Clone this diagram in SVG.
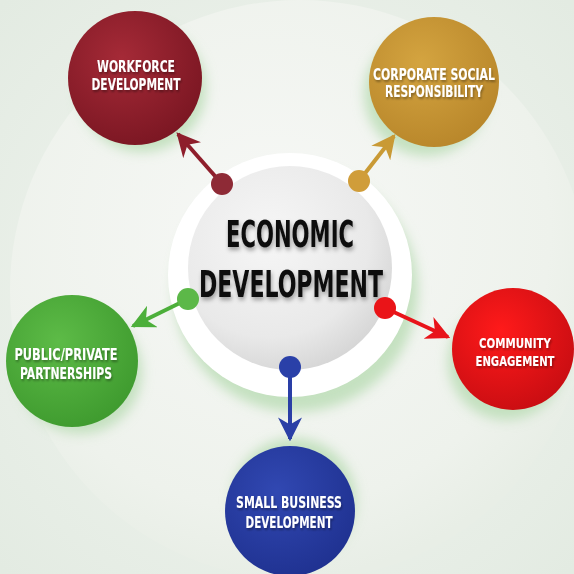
<svg xmlns="http://www.w3.org/2000/svg" width="574" height="574" viewBox="0 0 574 574">
<defs>
  <radialGradient id="bg" cx="0.5" cy="0.5" r="0.7">
    <stop offset="0" stop-color="#f3f6f2"/>
    <stop offset="1" stop-color="#e3ebe2"/>
  </radialGradient>
  <radialGradient id="bigc" cx="0.45" cy="0.4" r="0.6">
    <stop offset="0" stop-color="#f7f8f6"/>
    <stop offset="0.8" stop-color="#eef2ec"/>
    <stop offset="1" stop-color="#e8eee6"/>
  </radialGradient>
  <radialGradient id="inner" cx="0.4" cy="0.35" r="0.7">
    <stop offset="0" stop-color="#f6f6f6"/>
    <stop offset="0.7" stop-color="#e9e9e9"/>
    <stop offset="1" stop-color="#d4d4d4"/>
  </radialGradient>
  <radialGradient id="gRed" cx="0.4" cy="0.35" r="0.7">
    <stop offset="0" stop-color="#a52a37"/><stop offset="1" stop-color="#7a1622"/>
  </radialGradient>
  <radialGradient id="gGold" cx="0.4" cy="0.35" r="0.7">
    <stop offset="0" stop-color="#d4a440"/><stop offset="1" stop-color="#b8862a"/>
  </radialGradient>
  <radialGradient id="gGreen" cx="0.4" cy="0.35" r="0.7">
    <stop offset="0" stop-color="#5dbb47"/><stop offset="1" stop-color="#3e9a2e"/>
  </radialGradient>
  <radialGradient id="gBright" cx="0.4" cy="0.35" r="0.7">
    <stop offset="0" stop-color="#ff1a1a"/><stop offset="1" stop-color="#c80d12"/>
  </radialGradient>
  <radialGradient id="gBlue" cx="0.4" cy="0.35" r="0.7">
    <stop offset="0" stop-color="#3148b2"/><stop offset="1" stop-color="#1f3190"/>
  </radialGradient>
  <filter id="blur" x="-30%" y="-30%" width="160%" height="160%"><feGaussianBlur stdDeviation="6"/></filter>
  <filter id="tshadow" x="-10%" y="-20%" width="120%" height="150%"><feDropShadow dx="1" dy="3" stdDeviation="2" flood-color="#000" flood-opacity="0.35"/></filter>
  <filter id="wshadow" x="-10%" y="-30%" width="120%" height="160%"><feDropShadow dx="1" dy="2" stdDeviation="1" flood-color="#000" flood-opacity="0.35"/></filter>
  <marker id="mRed" viewBox="0 0 10 10" refX="9" refY="5" markerWidth="6" markerHeight="6" orient="auto" markerUnits="strokeWidth"><path d="M0,0 L10,5 L0,10 L3,5 Z" fill="#8e1e2b"/></marker>
  <marker id="mGold" viewBox="0 0 10 10" refX="9" refY="5" markerWidth="6" markerHeight="6" orient="auto" markerUnits="strokeWidth"><path d="M0,0 L10,5 L0,10 L3,5 Z" fill="#c99a35"/></marker>
  <marker id="mGreen" viewBox="0 0 10 10" refX="9" refY="5" markerWidth="6" markerHeight="6" orient="auto" markerUnits="strokeWidth"><path d="M0,0 L10,5 L0,10 L3,5 Z" fill="#4caf3a"/></marker>
  <marker id="mBright" viewBox="0 0 10 10" refX="9" refY="5" markerWidth="6" markerHeight="6" orient="auto" markerUnits="strokeWidth"><path d="M0,0 L10,5 L0,10 L3,5 Z" fill="#e8141a"/></marker>
  <marker id="mBlue" viewBox="0 0 10 10" refX="9" refY="5" markerWidth="6" markerHeight="6" orient="auto" markerUnits="strokeWidth"><path d="M0,0 L10,5 L0,10 L3,5 Z" fill="#2a3fa6"/></marker>
</defs>
<style>
  .lbl { font-family: "Liberation Sans Narrow", "DejaVu Sans Condensed", "Liberation Sans", sans-serif; font-weight: bold; fill: #ffffff; font-size: 15px; text-anchor: middle; }
  .sm { font-size: 14px; }
  .main { font-family: "Liberation Sans Narrow", "DejaVu Sans Condensed", "Liberation Sans", sans-serif; font-weight: bold; fill: #111111; font-size: 38px; text-anchor: middle; }
  .shadow { fill: #b9dcb4; opacity: 0.8; }
  .conn { stroke-width: 4; fill: none; }
</style>
<rect width="574" height="574" fill="url(#bg)"/>
<circle cx="300" cy="290" r="290" fill="url(#bigc)"/>

<!-- node shadows -->
<g filter="url(#blur)">
  <circle class="shadow" cx="142" cy="88" r="64"/>
  <circle class="shadow" cx="426" cy="94" r="62"/>
  <circle class="shadow" cx="80" cy="372" r="62"/>
  <circle class="shadow" cx="506" cy="362" r="58"/>
  <circle class="shadow" cx="294" cy="500" r="62"/>
  <circle class="shadow" cx="296" cy="290" r="122"/>
</g>

<!-- center -->
<g id="center">
  <circle cx="290" cy="275" r="122" fill="#ffffff"/>
  <circle cx="290" cy="268" r="102" fill="url(#inner)"/>
  <text class="main" x="290" y="247" textLength="128" lengthAdjust="spacingAndGlyphs" filter="url(#tshadow)">ECONOMIC</text>
  <text class="main" x="291" y="297" textLength="184" lengthAdjust="spacingAndGlyphs" filter="url(#tshadow)">DEVELOPMENT</text>
</g>

<!-- connectors -->
<g id="connectors">
  <line class="conn" x1="222" y1="184" x2="178" y2="134" stroke="#8e1e2b" marker-end="url(#mRed)"/>
  <circle cx="222" cy="184" r="11" fill="#8e2a36"/>
  <line class="conn" x1="359" y1="181" x2="394" y2="136" stroke="#c99a35" marker-end="url(#mGold)"/>
  <circle cx="359" cy="181" r="11" fill="#d09d3a"/>
  <line class="conn" x1="188" y1="299" x2="133" y2="326" stroke="#4caf3a" marker-end="url(#mGreen)"/>
  <circle cx="188" cy="299" r="11" fill="#5cb848"/>
  <line class="conn" x1="385" y1="308" x2="448" y2="337" stroke="#e8141a" marker-end="url(#mBright)"/>
  <circle cx="385" cy="308" r="11" fill="#ea1418"/>
  <line class="conn" x1="290" y1="367" x2="290" y2="439" stroke="#2a3fa6" marker-end="url(#mBlue)"/>
  <circle cx="290" cy="367" r="11" fill="#2a40a8"/>
</g>

<g id="workforce">
  <circle cx="135" cy="78" r="67" fill="url(#gRed)"/>
  <text class="lbl" x="136" y="72" textLength="78" lengthAdjust="spacingAndGlyphs" filter="url(#wshadow)">WORKFORCE</text>
  <text class="lbl" x="136" y="90" textLength="89" lengthAdjust="spacingAndGlyphs" filter="url(#wshadow)">DEVELOPMENT</text>
</g>
<g id="csr">
  <circle cx="434" cy="82" r="65" fill="url(#gGold)"/>
  <text class="lbl" x="434" y="80" textLength="122" lengthAdjust="spacingAndGlyphs" filter="url(#wshadow)">CORPORATE SOCIAL</text>
  <text class="lbl" x="434" y="97" textLength="98" lengthAdjust="spacingAndGlyphs" filter="url(#wshadow)">RESPONSIBILITY</text>
</g>
<g id="public-private">
  <circle cx="72" cy="361" r="66" fill="url(#gGreen)"/>
  <text class="lbl" x="66" y="360" textLength="103" lengthAdjust="spacingAndGlyphs" filter="url(#wshadow)">PUBLIC/PRIVATE</text>
  <text class="lbl" x="66" y="379" textLength="92" lengthAdjust="spacingAndGlyphs" filter="url(#wshadow)">PARTNERSHIPS</text>
</g>
<g id="community">
  <circle cx="513" cy="349" r="61" fill="url(#gBright)"/>
  <text class="lbl sm" x="515" y="348" textLength="72" lengthAdjust="spacingAndGlyphs" filter="url(#wshadow)">COMMUNITY</text>
  <text class="lbl sm" x="515" y="366" textLength="79" lengthAdjust="spacingAndGlyphs" filter="url(#wshadow)">ENGAGEMENT</text>
</g>
<g id="small-business">
  <circle cx="290" cy="511" r="65" fill="url(#gBlue)"/>
  <text class="lbl" x="289" y="508" textLength="106" lengthAdjust="spacingAndGlyphs" filter="url(#wshadow)">SMALL BUSINESS</text>
  <text class="lbl" x="289" y="528" textLength="87" lengthAdjust="spacingAndGlyphs" filter="url(#wshadow)">DEVELOPMENT</text>
</g>
</svg>
